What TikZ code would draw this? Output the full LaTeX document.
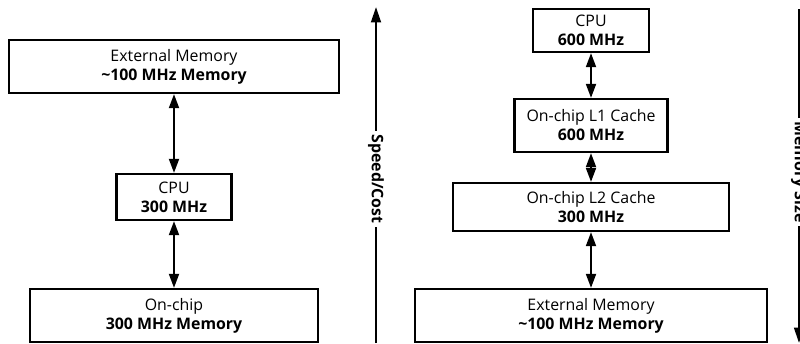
\documentclass[tikz,border=0pt]{standalone}
\usepackage{fontspec}
\setmainfont{Open Sans}
\usetikzlibrary{arrows.meta}

\tikzset{
  box/.style={draw,line width=1.5pt,align=center,inner sep=0pt,
    font=\fontsize{11.3}{13.5}\selectfont},
  axlabel/.style={rotate=-90,inner sep=2.5pt,font=\fontsize{11.3}{13.5}\selectfont\bfseries},
  arr/.style={line width=1.6pt,{Triangle[length=10pt,width=7pt]}-{Triangle[length=10pt,width=7pt]}},
}

\begin{document}
\begin{tikzpicture}[x=0.025cm,y=-0.025cm]
            \useasboundingbox(0,0)rectangle(800,343);
            \clip(0,0)rectangle(800,343);
            %左：オンチップメモリ
            \node[box,minimum width=8.25cm,minimum height=1.325cm](extL)at(174,66.5){External Memory\\\textbf{\textasciitilde100 MHz Memory}};
            \node[box,minimum width=2.875cm,minimum height=1.15cm](cpuL)at(174,197){CPU\\\textbf{300 MHz}};
            \node[box,minimum width=7.2cm,minimum height=1.325cm](chipL)at(174,315.5){On-chip\\\textbf{300 MHz Memory}};
            \path[draw,arr](extL)to(cpuL);
            \path[draw,arr](cpuL)to(chipL);
            %速度・コストの軸
            \node[axlabel](spd)at(376,179){Speed/Cost};
            \coordinate(spdlo)at(376,343);
            \coordinate(spdhi)at(376,7);
            \path[draw,line width=1.6pt](spdlo)to(spd.east);
            \path[draw,line width=1.6pt,-{Triangle[length=11pt,width=7pt]}](spd.west)to(spdhi);
            %右：キャッシュ階層
            \node[box,minimum width=2.9cm,minimum height=1.075cm](cpuR)at(591,30.5){CPU\\\textbf{600 MHz}};
            \node[box,minimum width=3.825cm,minimum height=1.325cm](l1)at(591,125.5){On-chip L1 Cache\\\textbf{600 MHz}};
            \node[box,minimum width=6.9cm,minimum height=1.2cm](l2)at(591,207){On-chip L2 Cache\\\textbf{300 MHz}};
            \node[box,minimum width=8.8cm,minimum height=1.325cm](extR)at(591,315.5){External Memory\\\textbf{\textasciitilde100 MHz Memory}};
            \path[draw,arr](cpuR)to(l1);
            \path[draw,arr](l1)to(l2);
            \path[draw,arr](l2)to(extR);
            %メモリサイズの軸
            \node[axlabel](msz)at(799,172){Memory Size};
            \coordinate(mszhi)at(799,9);
            \coordinate(mszlo)at(799,343);
            \path[draw,line width=1.6pt](mszhi)to(msz.west);
            \path[draw,line width=1.6pt,-{Triangle[length=11pt,width=7pt]}](msz.east)to(mszlo);
        \end{tikzpicture}
\end{document}
